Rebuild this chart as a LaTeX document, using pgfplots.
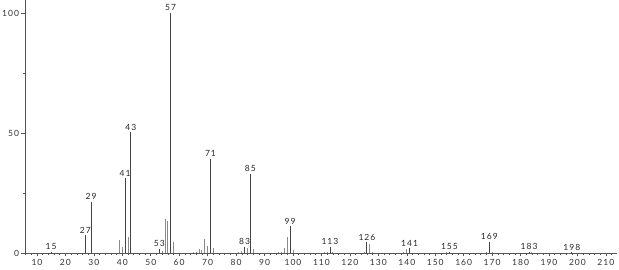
\documentclass[border=0pt]{standalone}
\usepackage{pgfplots}
\pgfplotsset{compat=1.18}
\usepackage{fontspec}
\setmainfont[LetterSpace=12]{Lato}
\definecolor{axc}{HTML}{555555}
\definecolor{darkbar}{HTML}{444444}
\definecolor{lightbar}{HTML}{8A8A8A}
\begin{document}
\begin{tikzpicture}
\path[use as bounding box] (-25pt,-17pt) rectangle (594pt,253pt);
\begin{axis}[
  at={(0,0)}, anchor=south west,
  scale only axis, width=592pt, height=253pt,
  xmin=5.8, xmax=213.9, ymin=0, ymax=105.4,
  axis lines*=left,
  axis line style={axc, line width=0.6pt},
  xtick={10,20,...,210}, minor xtick={6,8,...,212},
  ytick={0,50,100}, minor ytick={25,75},
  tick align=outside,
  major tick length=3.5pt, minor tick length=2pt,
  tick style={axc, line width=0.5pt},
  ticklabel style={font=\fontsize{8.5}{10}\selectfont, text=black!80},
  /pgf/number format/assume math mode=true,
  xticklabel style={yshift=1pt},
  yticklabel style={xshift=1pt},
  clip=false,
]
\addplot[ycomb, lightbar, line width=0.9pt, mark=none] coordinates {
(39,5.4)(40,2.6)(42,6.5)(53,1.7)(54,0.9)(55,14.2)(56,13.5)(58,4.4)
(65,0.4)(66,0.5)(67,1.5)(68,1.2)(69,6.0)(70,2.9)(72,2.1)
(81,0.4)(82,1.0)(84,2.2)(86,1.5)(95,0.4)(96,0.5)(97,2.0)(98,6.7)(100,1.2)
(111,0.4)(112,0.4)(114,0.5)(125,0.4)(127,3.6)(128,0.3)(139,0.4)(140,1.8)
(154,0.3)(168,0.3)(170,0.5)(184,0.3)(197,0.2)
};
\addplot[ycomb, darkbar, line width=0.9pt, mark=none,
  nodes near coords, point meta=explicit symbolic,
  nodes near coords style={font=\fontsize{8.5}{10}\selectfont, text=black!85, anchor=south, inner sep=1.5pt}]
 table[meta=lab] {
x y lab
15 0.5 15
27 7.5 27
29 21.4 29
41 31.1 41
43 50.3 43
53 1.7 53
57 100 57
71 39.2 71
83 2.6 83
85 33.0 85
99 11.2 99
113 2.6 113
126 4.4 126
141 2.0 141
155 0.5 155
169 4.6 169
183 0.5 183
198 0.3 198
};
\end{axis}
\end{tikzpicture}
\end{document}
